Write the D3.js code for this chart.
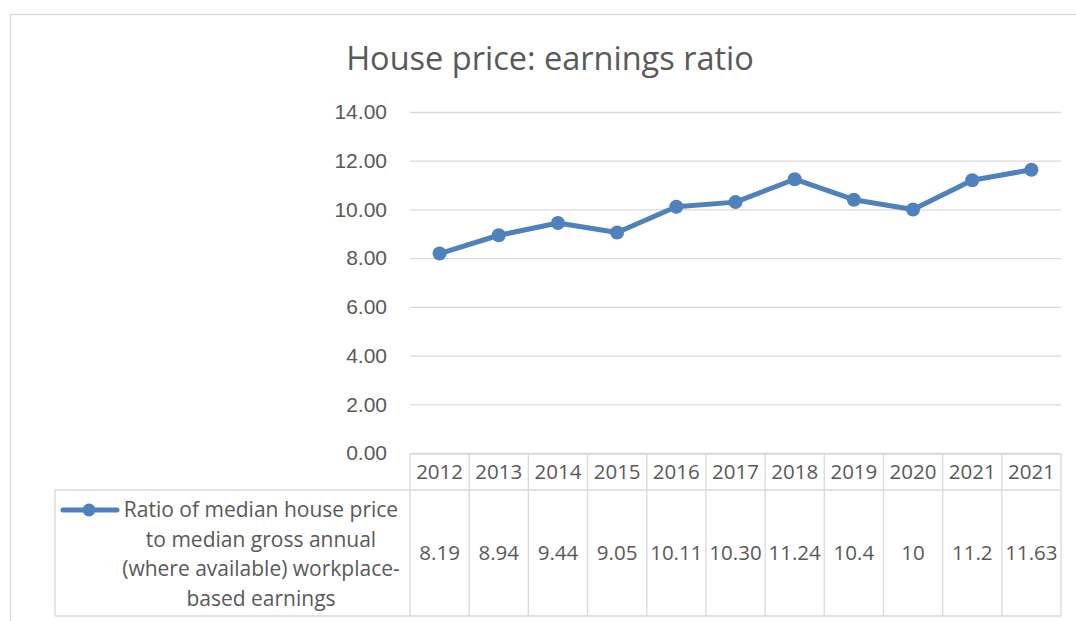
<!DOCTYPE html>
<html><head><meta charset="utf-8">
<script src="https://cdn.jsdelivr.net/npm/d3@7"></script>
<style>body{margin:0;background:#fff}svg{display:block;font-family:"Open Sans",sans-serif}</style>
</head><body><svg id="c" width="1076" height="621"></svg>
<script>
const years = ["2012","2013","2014","2015","2016","2017","2018","2019","2020","2021","2021"];
const valueLabels = ["8.19","8.94","9.44","9.05","10.11","10.30","11.24","10.4","10","11.2","11.63"];
const values = [8.19,8.94,9.44,9.05,10.11,10.30,11.24,10.4,10,11.2,11.63];
const yTicks = [0,2,4,6,8,10,12,14];
const seriesName = ["Ratio of median house price","to median gross annual","(where available) workplace-","based earnings"];
const title = "House price: earnings ratio";

const svg = d3.select("#c");
const grey = "#595959", border = "#d9d9d9", blue = "#4f81bd";
const L = 410, R = 1061, T = 112, B = 453;
const fs = "20.5px";
const x = d3.scaleBand().domain(d3.range(years.length)).range([L, R]);
const y = d3.scaleLinear().domain([0, 14]).range([B, T]);

// outer chart frame
svg.append("rect").attr("x",10.5).attr("y",14.5).attr("width",1100).attr("height",700)
  .attr("fill","none").attr("stroke",border).attr("stroke-width",1.3);

svg.append("text").attr("x",550).attr("y",70).attr("text-anchor","middle")
  .attr("fill",grey).style("font-size","32.5px").text(title);

// y axis
const yAxis = d3.axisLeft(y).tickValues(yTicks).tickSize(-(R-L)).tickFormat(d3.format(".2f"));
const yg = svg.append("g").attr("transform",`translate(${L},0)`).call(yAxis);
yg.select(".domain").remove();
yg.selectAll(".tick line").attr("stroke",border).attr("stroke-width",1.3);
yg.selectAll(".tick text").attr("x",-23).attr("fill",grey).style("font-size","21px");

// table
const hTop = 454, hBot = 490, dBot = 616;
const tg = svg.append("g");
const lineAttr = s => s.attr("stroke",border).attr("stroke-width",1.3);
lineAttr(tg.append("line").attr("x1",L).attr("x2",R).attr("y1",hTop).attr("y2",hTop));
lineAttr(tg.append("line").attr("x1",55).attr("x2",R).attr("y1",hBot).attr("y2",hBot));
lineAttr(tg.append("line").attr("x1",55).attr("x2",R).attr("y1",dBot).attr("y2",dBot));
lineAttr(tg.append("line").attr("x1",55).attr("x2",55).attr("y1",hBot).attr("y2",dBot));
const bounds = years.map((d,i)=>x(i)).concat([R]);
bounds.forEach(b => lineAttr(tg.append("line").attr("x1",b).attr("x2",b).attr("y1",hTop).attr("y2",dBot)));
tg.selectAll("text.yr").data(years).join("text").attr("class","yr")
  .attr("x",(d,i)=>x(i)+x.bandwidth()/2).attr("y",479).attr("text-anchor","middle")
  .attr("fill",grey).style("font-size",fs).text(d=>d);
tg.selectAll("text.val").data(valueLabels).join("text").attr("class","val")
  .attr("x",(d,i)=>x(i)+x.bandwidth()/2).attr("y",560).attr("text-anchor","middle")
  .attr("fill",grey).style("font-size",fs).text(d=>d);

// legend key
tg.append("line").attr("x1",63).attr("x2",117).attr("y1",510).attr("y2",510)
  .attr("stroke",blue).attr("stroke-width",5).attr("stroke-linecap","round");
tg.append("circle").attr("cx",89).attr("cy",510).attr("r",6.5).attr("fill",blue);
tg.selectAll("text.lg").data(seriesName).join("text").attr("class","lg")
  .attr("x",261).attr("y",(d,i)=>517+i*29.5).attr("text-anchor","middle")
  .attr("fill",grey).style("font-size","21px").text(d=>d);

// series
const line = d3.line().x((d,i)=>x(i)+x.bandwidth()/2).y(d=>y(d));
svg.append("path").datum(values).attr("d",line).attr("fill","none")
  .attr("stroke",blue).attr("stroke-width",5).attr("stroke-linejoin","round");
svg.selectAll("circle.pt").data(values).join("circle").attr("class","pt")
  .attr("cx",(d,i)=>x(i)+x.bandwidth()/2).attr("cy",d=>y(d)).attr("r",7).attr("fill",blue);
</script></body></html>
